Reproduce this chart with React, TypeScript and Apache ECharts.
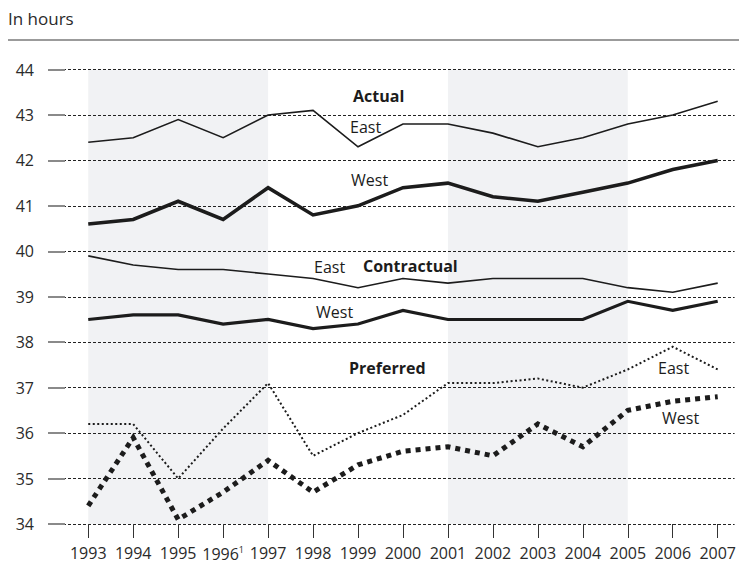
import React, { useEffect, useRef } from "react";
import * as echarts from "echarts";

const years = [1993, 1994, 1995, 1996, 1997, 1998, 1999, 2000, 2001, 2002, 2003, 2004, 2005, 2006, 2007];
const actualEast = [42.4, 42.5, 42.9, 42.5, 43.0, 43.1, 42.3, 42.8, 42.8, 42.6, 42.3, 42.5, 42.8, 43.0, 43.3];
const actualWest = [40.6, 40.7, 41.1, 40.7, 41.4, 40.8, 41.0, 41.4, 41.5, 41.2, 41.1, 41.3, 41.5, 41.8, 42.0];
const contractualEast = [39.9, 39.7, 39.6, 39.6, 39.5, 39.4, 39.2, 39.4, 39.3, 39.4, 39.4, 39.4, 39.2, 39.1, 39.3];
const contractualWest = [38.5, 38.6, 38.6, 38.4, 38.5, 38.3, 38.4, 38.7, 38.5, 38.5, 38.5, 38.5, 38.9, 38.7, 38.9];
const preferredEast = [36.2, 36.2, 35.0, 36.1, 37.1, 35.5, 36.0, 36.4, 37.1, 37.1, 37.2, 37.0, 37.4, 37.9, 37.4];
const preferredWest = [34.4, 35.9, 34.1, 34.7, 35.4, 34.7, 35.3, 35.6, 35.7, 35.5, 36.2, 35.7, 36.5, 36.7, 36.8];
const shadedPeriods = [[1993, 1997], [2001, 2005]];
const footnoteYear = 1996;

const FONT = "'Open Sans', sans-serif";
const INK = "#1c1c1c";

const pairs = (vals: number[]) => years.map((y, i) => [y, vals[i]]);

export default function App() {
  const ref = useRef<HTMLDivElement>(null);
  useEffect(() => {
    if (!ref.current) return;
    const chart = echarts.init(ref.current, undefined, { renderer: "svg" });
    const lineSeries = (name: string, vals: number[], width: number, type: any) => ({
      name,
      type: "line",
      data: pairs(vals),
      symbol: "none",
      z: 3,
      lineStyle: { color: INK, width, type, cap: "butt", join: "miter" },
    });
    const txt = (text: string, x: number, y: number, bold = false) => ({
      type: "text",
      x,
      y,
      z: 100,
      zlevel: 0,
      style: {
        text,
        font: `${bold ? "bold " : ""}16px ${FONT}`,
        fill: INK,
        verticalAlign: "middle",
      },
    });
    chart.setOption({
      animation: false,
      grid: { left: 48, right: 0, top: 69.5, bottom: 42, containLabel: false },
      xAxis: {
        type: "value",
        min: 1993 - 40.5 / 45.25,
        max: 2007 + 17 / 45.25,
        axisLine: { show: false },
        splitLine: { show: false },
        axisTick: {
          show: true,
          length: 14,
          customValues: years,
          lineStyle: { color: "#333", width: 1 },
        },
        axisLabel: {
          customValues: years,
          margin: 21,
          fontFamily: FONT,
          fontSize: 16,
          color: "#2a2a2a",
          formatter: (v: number) => (v === footnoteYear ? `${v}{sup|1}` : `${v}`),
          rich: {
            sup: { fontSize: 9, fontFamily: FONT, color: "#2a2a2a", verticalAlign: "top", padding: [0, 0, 8, 0] },
          },
        },
      },
      yAxis: {
        type: "value",
        min: 34,
        max: 44,
        interval: 1,
        axisLine: { show: false },
        axisTick: { show: true, inside: true, length: 17, lineStyle: { color: "#8a8a8a", width: 2 } },
        axisLabel: { margin: 14, fontFamily: FONT, fontSize: 16, color: "#2a2a2a" },
        splitLine: { show: true, lineStyle: { color: "#222", width: 1, type: [3, 2] } },
      },
      graphic: {
        elements: [
          { type: "text", x: 8, y: 18, style: { text: "In hours", font: `17px ${FONT}`, fill: "#2a2a2a", verticalAlign: "middle" } },
          { type: "line", shape: { x1: 8, y1: 40, x2: 739, y2: 40 }, style: { stroke: "#7a7a7a", lineWidth: 1.5 } },
          txt("Actual", 353, 96, true),
          txt("East", 350, 127),
          txt("West", 351, 180),
          txt("East", 314, 267),
          txt("Contractual", 363, 266, true),
          txt("West", 316, 312),
          txt("Preferred", 349, 368, true),
          txt("East", 658, 368),
          txt("West", 662, 418),
        ],
      },
      series: [
        {
          name: "bands",
          type: "line",
          data: [],
          z: -1,
          silent: true,
          markArea: {
            silent: true,
            z: -1,
            itemStyle: { color: "#f1f2f4" },
            data: shadedPeriods.map(([a, b]) => [{ xAxis: a }, { xAxis: b }]),
          },
        },
        lineSeries("Actual East", actualEast, 1.6, "solid"),
        lineSeries("Actual West", actualWest, 3.6, "solid"),
        lineSeries("Contractual East", contractualEast, 1.6, "solid"),
        lineSeries("Contractual West", contractualWest, 3.2, "solid"),
        lineSeries("Preferred East", preferredEast, 2, [2, 2.5]),
        lineSeries("Preferred West", preferredWest, 5, [5, 5]),
      ],
    });
    return () => chart.dispose();
  }, []);
  return <div ref={ref} style={{ position: "absolute", left: 0, top: 0, width: 739, height: 566 }} />;
}
